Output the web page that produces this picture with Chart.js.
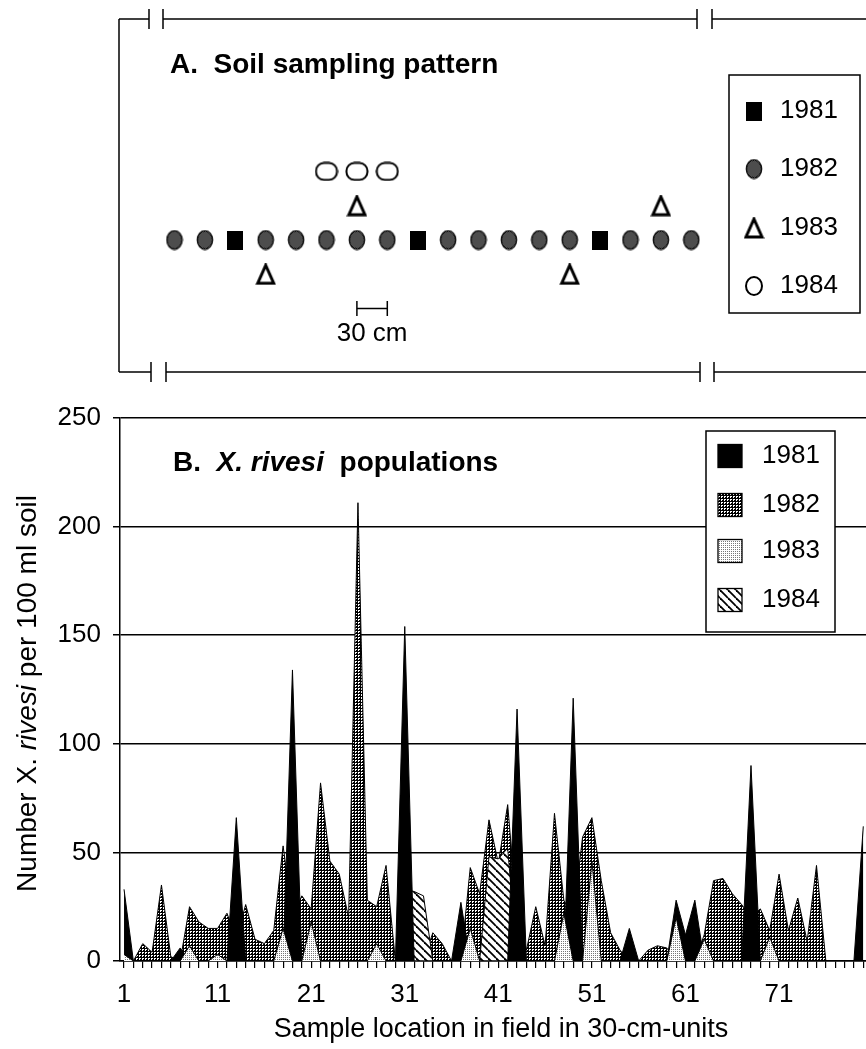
<!DOCTYPE html>
<html lang="en">
<head>
<meta charset="utf-8">
<title>X. rivesi - soil sampling</title>
<script src="https://cdn.jsdelivr.net/npm/chart.js@4.4.1/dist/chart.umd.min.js"></script>
<style>
    html, body { margin: 0; padding: 0; background: #fff; }
    #pagina { position: relative; width: 866px; height: 1049px; overflow: hidden; background: #fff; }
    #graficoA { position: absolute; left: 0; top: 0; }
    #graficoB { position: absolute; left: 0; top: 390px; }
</style>
</head>
<body>
<div id="pagina">
    <canvas id="graficoA" width="960" height="390" style="width:960px;height:390px"></canvas>
    <canvas id="graficoB" width="960" height="659" style="width:960px;height:659px"></canvas>
</div>
<script>
// ================================
// Dados - Parte A (posições em unidades de 30 cm)
// ================================
const pos1981 = [3, 9, 15];
const pos1982 = [1, 2, 4, 5, 6, 7, 8, 10, 11, 12, 13, 14, 16, 17, 18];
const pos1983 = [4, 7, 14, 17];
const linha1983 = [-1, 1, -1, 1];   // abaixo / acima da linha principal
const pos1984 = [6, 7, 8];
const linha1984 = [2, 2, 2];
const escala30cm = [7, 8];

// ================================
// Dados - Parte B (X. rivesi por 100 ml de solo)
// ================================
const anos = ['1981', '1982', '1983', '1984'];
const locais = [
     1,  2,  3,  4,  5,  6,  7,  8,  9, 10,
    11, 12, 13, 14, 15, 16, 17, 18, 19, 20,
    21, 22, 23, 24, 25, 26, 27, 28, 29, 30,
    31, 32, 33, 34, 35, 36, 37, 38, 39, 40,
    41, 42, 43, 44, 45, 46, 47, 48, 49, 50,
    51, 52, 53, 54, 55, 56, 57, 58, 59, 60,
    61, 62, 63, 64, 65, 66, 67, 68, 69, 70,
    71, 72, 73, 74, 75, 76, 77, 78, 79, 80
];
const v1981 = [
    33, 0, 0, 0, 0, 0, 6, 0, 0, 0,
    0, 0, 66, 0, 0, 0, 0, 0, 134, 0,
    0, 0, 0, 0, 0, 0, 0, 0, 0, 0,
    154, 0, 0, 0, 0, 0, 27, 0, 0, 0,
    0, 0, 116, 0, 0, 0, 0, 0, 121, 0,
    0, 0, 0, 0, 15, 0, 0, 0, 0, 28,
    12, 28, 0, 0, 0, 0, 0, 90, 0, 0,
    0, 0, 0, 0, 0, 0, 0, 0, 0, 62
];
const v1982 = [
    0, 0, 8, 4, 35, 2, 0, 25, 18, 15,
    15, 22, 10, 26, 10, 8, 14, 53, 20, 30,
    24, 82, 46, 40, 20, 211, 28, 25, 44, 0,
    0, 0, 0, 13, 8, 0, 0, 43, 31, 65,
    45, 72, 20, 5, 25, 7, 68, 28, 20, 57,
    66, 37, 13, 5, 0, 0, 5, 7, 6, 0,
    0, 0, 12, 37, 38, 31, 26, 20, 24, 14,
    40, 14, 29, 9, 44, 0, 0, 0, 0, 0
];
const v1983 = [
    3, 0, 0, 0, 0, 0, 0, 7, 0, 0,
    3, 0, 0, 0, 0, 0, 0, 15, 0, 0,
    18, 0, 0, 0, 0, 0, 0, 8, 0, 0,
    0, 0, 0, 0, 0, 0, 0, 15, 0, 0,
    0, 0, 0, 0, 0, 0, 0, 22, 0, 0,
    46, 0, 0, 0, 0, 0, 0, 0, 0, 20,
    0, 0, 10, 0, 0, 0, 0, 0, 0, 11,
    0, 0, 0, 0, 0, 0, 0, 0, 0, 0
];
const v1984 = [
    0, 0, 0, 0, 0, 0, 0, 0, 0, 0,
    0, 0, 0, 0, 0, 0, 0, 0, 0, 0,
    0, 0, 0, 0, 0, 0, 0, 0, 0, 0,
    33, 32, 30, 0, 0, 0, 0, 0, 0, 48,
    47, 52, 0, 0, 0, 0, 0, 0, 0, 0,
    0, 0, 0, 0, 0, 0, 0, 0, 0, 0,
    0, 0, 0, 0, 0, 0, 0, 0, 0, 0,
    0, 0, 0, 0, 0, 0, 0, 0, 0, 0
];
const ticksX = [1, 11, 21, 31, 41, 51, 61, 71];
const ticksY = [0, 50, 100, 150, 200, 250];

const FONTE = "'Liberation Sans', Arial, Helvetica, sans-serif";
Chart.defaults.font.family = FONTE;
Chart.defaults.color = '#000';

// ================================
// Padrões de preenchimento
// ================================
function criarPadrao(w, h, desenhar) {
    const c = document.createElement('canvas');
    c.width = w;
    c.height = h;
    const g = c.getContext('2d');
    desenhar(g, w, h);
    return g.createPattern(c, 'repeat');
}

const padrao1982 = criarPadrao(3, 3, (g) => {
    g.fillStyle = '#000';
    g.fillRect(0, 0, 3, 3);
    g.fillStyle = '#fff';
    g.fillRect(1, 1, 2, 1);
    g.fillRect(1, 2, 1, 1);
});
const padrao1983 = criarPadrao(2, 2, (g) => {
    g.fillStyle = '#fff';
    g.fillRect(0, 0, 2, 2);
    g.fillStyle = '#777';
    g.fillRect(1, 1, 1, 1);
});
const padrao1984 = criarPadrao(8, 8, (g) => {
    g.fillStyle = '#fff';
    g.fillRect(0, 0, 8, 8);
    g.strokeStyle = '#000';
    g.lineWidth = 1.8;
    [-8, 0, 8].forEach(c => {
        g.beginPath();
        g.moveTo(0, c);
        g.lineTo(8, 8 + c);
        g.stroke();
    });
});
const padraoCirculo = criarPadrao(2, 2, (g) => {
    g.fillStyle = '#8a8a8a';
    g.fillRect(0, 0, 2, 2);
    g.fillStyle = '#111';
    g.fillRect(0, 0, 1, 1);
    g.fillRect(1, 1, 1, 1);
});

// ================================
// Símbolos da parte A
// ================================
function criarSimbolo(w, h, desenhar) {
    const c = document.createElement('canvas');
    c.width = w;
    c.height = h;
    desenhar(c.getContext('2d'), w, h);
    return c;
}

const simbolo1981 = criarSimbolo(16, 19, (g, w, h) => {
    g.fillStyle = '#000';
    g.fillRect(0, 0, w, h);
});
const simbolo1982 = criarSimbolo(18, 21, (g) => {
    g.beginPath();
    g.ellipse(9, 10.5, 7.6, 9.2, 0, 0, Math.PI * 2);
    g.fillStyle = padraoCirculo;
    g.fill();
    g.lineWidth = 1.5;
    g.strokeStyle = '#111';
    g.stroke();
});
const simbolo1983 = criarSimbolo(21, 22, (g) => {
    g.beginPath();
    g.moveTo(10.5, 2);
    g.lineTo(18.5, 20);
    g.lineTo(2.5, 20);
    g.closePath();
    g.fillStyle = '#fff';
    g.fill();
    g.lineWidth = 3;
    g.strokeStyle = '#000';
    g.stroke();
});
const simbolo1984 = criarSimbolo(24, 20, (g) => {
    g.beginPath();
    g.roundRect(1.5, 1.5, 21, 17, 8);
    g.fillStyle = '#fff';
    g.fill();
    g.lineWidth = 2;
    g.strokeStyle = '#000';
    g.stroke();
});
const simboloLegenda1984 = criarSimbolo(22, 22, (g) => {
    g.beginPath();
    g.ellipse(11, 11, 8, 9, 0, 0, Math.PI * 2);
    g.lineWidth = 2;
    g.strokeStyle = '#000';
    g.stroke();
});

// desenha um texto com partes em fontes diferentes
function desenharPartes(ctx, x, y, partes, centralizar) {
    let total = 0;
    partes.forEach(([t, f]) => { ctx.font = f; total += ctx.measureText(t).width; });
    let cx = centralizar ? x - total / 2 : x;
    ctx.textAlign = 'left';
    ctx.textBaseline = 'middle';
    partes.forEach(([t, f]) => {
        ctx.font = f;
        ctx.fillText(t, cx, y);
        cx += ctx.measureText(t).width;
    });
}

// ================================
// Parte A: moldura, título e legenda
// ================================
const decoracaoA = {
    id: 'decoracaoA',
    afterDraw(chart) {
        const ctx = chart.ctx;
        const sx = chart.scales.x;
        const sy = chart.scales.y;
        ctx.save();
        ctx.strokeStyle = '#000';
        ctx.lineWidth = 1.5;

        // moldura com marcas de interrupção
        const linha = (x1, y1, x2, y2) => {
            ctx.beginPath(); ctx.moveTo(x1, y1); ctx.lineTo(x2, y2); ctx.stroke();
        };
        const topo = 19, base = 372;
        linha(119, topo, 119, base);
        linha(119, topo, 149, topo); linha(163, topo, 697, topo); linha(712, topo, 960, topo);
        [149, 163, 697, 712].forEach(x => linha(x, topo - 10, x, topo + 10));
        linha(119, base, 151, base); linha(166, base, 700, base); linha(714, base, 960, base);
        [151, 166, 700, 714].forEach(x => linha(x, base - 10, x, base + 10));

        // título
        ctx.fillStyle = '#000';
        desenharPartes(ctx, 170, 65, [['A.  Soil sampling pattern', 'bold 28px ' + FONTE]]);

        // rótulo da barra de escala
        ctx.font = '26px ' + FONTE;
        ctx.textAlign = 'center';
        ctx.textBaseline = 'middle';
        ctx.fillText('30 cm', sx.getPixelForValue((escala30cm[0] + escala30cm[1]) / 2), sy.getPixelForValue(-2.75));

        // legenda
        ctx.lineWidth = 1.5;
        ctx.strokeRect(729, 75, 131, 238);
        const simbolos = [simbolo1981, simbolo1982, simbolo1983, simboloLegenda1984];
        const ys = [111, 169, 228, 286];
        anos.forEach((ano, i) => {
            const s = simbolos[i];
            ctx.drawImage(s, 754 - s.width / 2, ys[i] - s.height / 2);
            ctx.font = '26px ' + FONTE;
            ctx.textAlign = 'left';
            ctx.fillText(ano, 780, ys[i]);
        });
        ctx.restore();
    }
};

new Chart(document.getElementById('graficoA'), {
    type: 'scatter',
    data: {
        datasets: [
            { label: '1981', data: pos1981.map(x => ({ x, y: 0 })), pointStyle: simbolo1981 },
            { label: '1982', data: pos1982.map(x => ({ x, y: 0 })), pointStyle: simbolo1982 },
            { label: '1983', data: pos1983.map((x, i) => ({ x, y: linha1983[i] })), pointStyle: simbolo1983 },
            { label: '1984', data: pos1984.map((x, i) => ({ x, y: linha1984[i] })), pointStyle: simbolo1984 },
            {
                label: '30 cm',
                data: escala30cm.map(x => ({ x, y: -2 })),
                showLine: true,
                borderColor: '#000',
                borderWidth: 1.5,
                pointStyle: 'line',
                rotation: 90,
                pointRadius: 7.5,
                pointBorderColor: '#000',
                pointBorderWidth: 1.5
            }
        ]
    },
    options: {
        responsive: false,
        animation: false,
        events: [],
        layout: { padding: { left: 144.1, right: 86.3, top: 137.1, bottom: 47.1 } },
        scales: {
            x: { type: 'linear', display: false, min: 0, max: 24 },
            y: { type: 'linear', display: false, min: -3, max: 3 }
        },
        plugins: { legend: { display: false }, tooltip: { enabled: false } }
    },
    plugins: [decoracaoA]
});

// ================================
// Parte B: títulos e legenda
// ================================
const decoracaoB = {
    id: 'decoracaoB',
    afterDraw(chart) {
        const { ctx, chartArea } = chart;
        ctx.save();
        ctx.fillStyle = '#000';

        // título do painel
        desenharPartes(ctx, 173, 73, [
            ['B.  ', 'bold 28px ' + FONTE],
            ['X. rivesi', 'italic bold 28px ' + FONTE],
            ['  populations', 'bold 28px ' + FONTE]
        ]);

        // título do eixo Y
        ctx.save();
        ctx.translate(28, (chartArea.top + chartArea.bottom) / 2 + 4);
        ctx.rotate(-Math.PI / 2);
        desenharPartes(ctx, 0, 0, [
            ['Number X. ', '28px ' + FONTE],
            ['rivesi', 'italic 28px ' + FONTE],
            [' per 100 ml soil', '28px ' + FONTE]
        ], true);
        ctx.restore();

        // legenda
        ctx.fillStyle = '#fff';
        ctx.fillRect(706, 41, 129, 201);
        ctx.strokeStyle = '#000';
        ctx.lineWidth = 1.5;
        ctx.strokeRect(706, 41, 129, 201);
        const ys = [66, 115, 161, 210];
        chart.data.datasets.forEach((ds, i) => {
            ctx.fillStyle = ds.backgroundColor;
            ctx.fillRect(718, ys[i] - 11.5, 24, 23);
            ctx.lineWidth = 1.3;
            ctx.strokeRect(718, ys[i] - 11.5, 24, 23);
            ctx.fillStyle = '#000';
            ctx.font = '26px ' + FONTE;
            ctx.textAlign = 'left';
            ctx.textBaseline = 'middle';
            ctx.fillText(ds.label, 762, ys[i]);
        });
        ctx.restore();
    }
};

// ordem: valor menor fica por cima
function serie(label, valores, cor, ordem) {
    return {
        label: label,
        data: locais.map((x, i) => ({ x, y: valores[i] })),
        backgroundColor: cor,
        borderColor: '#000',
        borderWidth: 1,
        fill: 'origin',
        pointRadius: 0,
        tension: 0,
        order: ordem
    };
}

new Chart(document.getElementById('graficoB'), {
    type: 'line',
    data: {
        datasets: [
            serie(anos[0], v1981, '#000', 1),
            serie(anos[1], v1982, padrao1982, 3),
            serie(anos[2], v1983, padrao1983, 0),
            serie(anos[3], v1984, padrao1984, 2)
        ]
    },
    options: {
        responsive: false,
        animation: false,
        events: [],
        layout: { padding: { left: 0, right: 78, top: 28, bottom: 0 } },
        scales: {
            x: {
                type: 'linear',
                min: 0.57,
                max: 82,
                grid: { drawOnChartArea: false, drawTicks: true, tickLength: 7, color: '#000', lineWidth: 1.2 },
                border: { display: true, color: '#000', width: 1.5 },
                ticks: {
                    stepSize: 1,
                    autoSkip: false,
                    maxRotation: 0,
                    includeBounds: false,
                    maxTicksLimit: 200,
                    color: '#000',
                    font: { size: 26 },
                    padding: 11,
                    callback: v => ticksX.includes(v) ? String(v) : ''
                },
                title: {
                    display: true,
                    text: 'Sample location in field in 30-cm-units',
                    color: '#000',
                    font: { size: 27 },
                    padding: { top: 0, bottom: 3 }
                },
                afterFit: s => { s.height = 88; }
            },
            y: {
                type: 'linear',
                min: ticksY[0],
                max: ticksY[ticksY.length - 1],
                grid: { color: '#000', lineWidth: 1.5, tickLength: 7 },
                border: { color: '#000', width: 1.5 },
                ticks: {
                    stepSize: ticksY[1] - ticksY[0],
                    color: '#000',
                    font: { size: 26 },
                    padding: 12
                },
                afterFit: s => { s.width = 120; }
            }
        },
        plugins: { legend: { display: false }, tooltip: { enabled: false } }
    },
    plugins: [decoracaoB]
});
</script>
</body>
</html>
